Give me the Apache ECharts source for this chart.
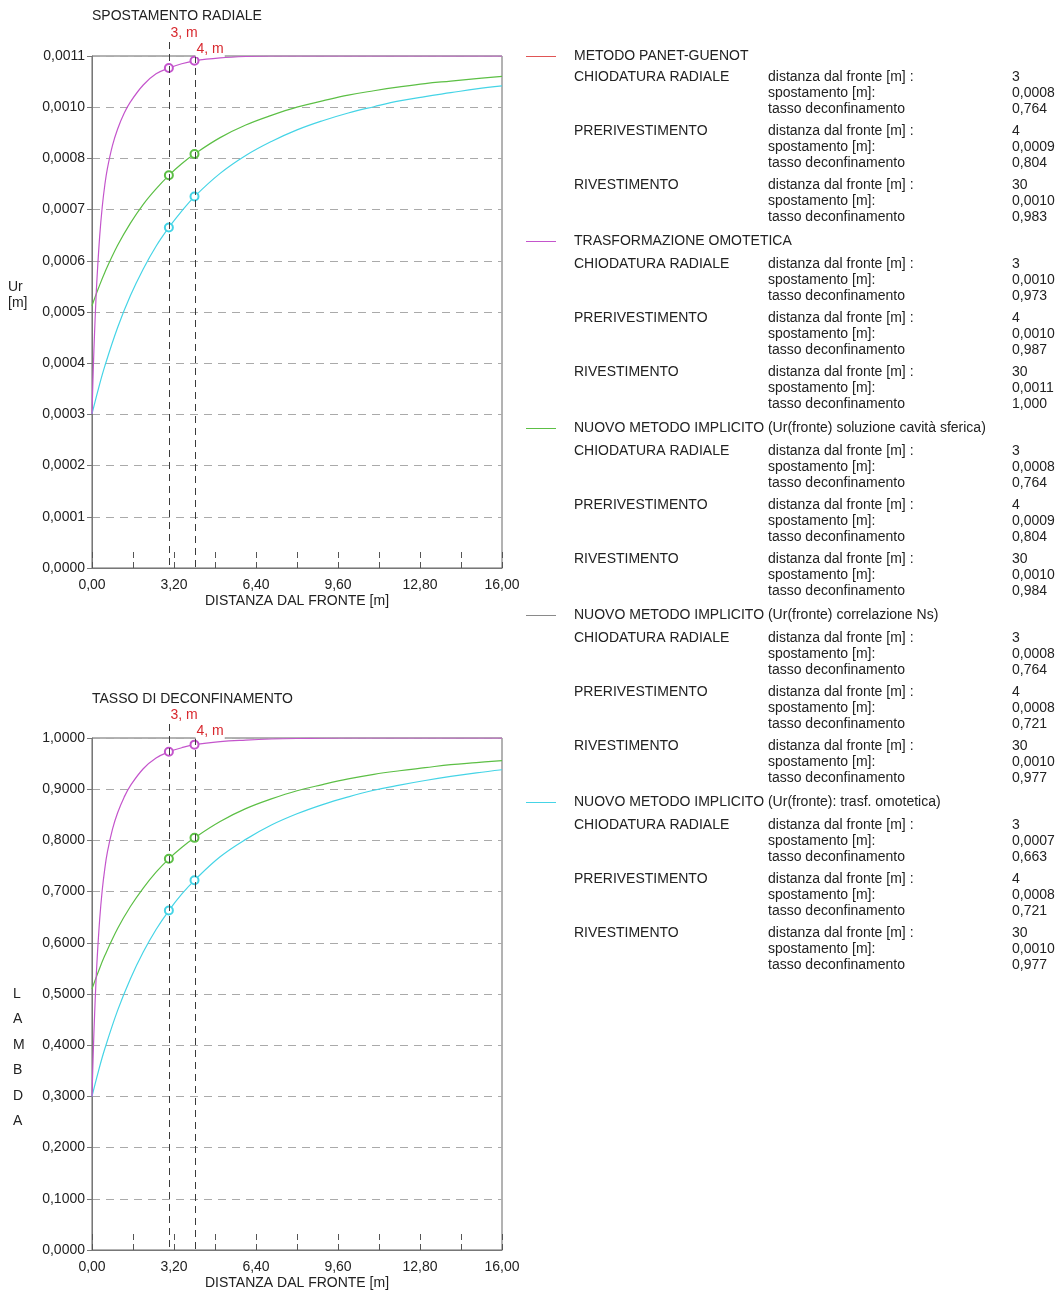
<!DOCTYPE html>
<html><head><meta charset="utf-8">
<script src="https://cdn.jsdelivr.net/npm/echarts@6/dist/echarts.min.js"></script>
<style>html,body{margin:0;padding:0;background:#fff}#c{width:1060px;height:1293px}</style>
</head><body><div id="c"></div>
<script>
// ---------- data ----------
const xs = [0,0.25,0.5,1,1.5,2,2.5,3,3.5,4,5,6,7,8,9,10,11,12,13,14,15,16];
const lamGreen = [0.510,0.544,0.575,0.628,0.671,0.707,0.738,0.764,0.786,0.805,0.837,0.862,0.881,0.897,0.909,0.920,0.929,0.936,0.942,0.948,0.952,0.956];
const lamCyan  = [0.300,0.349,0.393,0.468,0.530,0.582,0.626,0.663,0.695,0.722,0.768,0.802,0.830,0.852,0.870,0.885,0.898,0.908,0.917,0.925,0.932,0.938];
const urGreen = [0.000543,0.000579,0.000612,0.000668,0.000714,0.000753,0.000785,0.000813,0.000837,0.000857,0.000891,0.000917,0.000937,0.000954,0.000967,0.000979,0.000988,0.000996,0.001003,0.001008,0.001013,0.001018];
const urCyan  = [0.000319,0.000371,0.000418,0.000498,0.000564,0.000619,0.000666,0.000705,0.000739,0.000769,0.000817,0.000854,0.000883,0.000907,0.000926,0.000942,0.000955,0.000967,0.000976,0.000984,0.000992,0.000998];
const xsM = [0,0.05,0.1,0.15,0.2,0.3,0.4,0.5,0.6,0.8,1,1.25,1.5,2,2.5,3,3.5,4,5,6,7,8,10,12,14,16];
const lamMag = [0.300,0.387,0.458,0.518,0.568,0.646,0.703,0.745,0.777,0.822,0.854,0.884,0.907,0.940,0.961,0.973,0.981,0.987,0.993,0.996,0.998,0.999,1.000,1.000,1.000,1.000];
const urMag  = [0.000319,0.000412,0.000487,0.000551,0.000604,0.000687,0.000748,0.000793,0.000827,0.000875,0.000909,0.000941,0.000965,0.001000,0.001023,0.001035,0.001044,0.001050,0.001056,0.001059,0.001060,0.001060,0.001060,0.001060,0.001060,0.001060];

const markDist = [3, 4];
const xTickLabels = ['0,00','3,20','6,40','9,60','12,80','16,00'];
const urTickLabels = ['0,0000','0,0001','0,0002','0,0003','0,0004','0,0005','0,0006','0,0007','0,0008','0,0010','0,0011'];
const lamTickLabels = ['0,0000','0,1000','0,2000','0,3000','0,4000','0,5000','0,6000','0,7000','0,8000','0,9000','1,0000'];
const urMax = 0.00106, urStep = 0.000106;
const lamMax = 1, lamStep = 0.1;

const methods = ['METODO PANET-GUENOT','TRASFORMAZIONE OMOTETICA','NUOVO METODO IMPLICITO (Ur(fronte) soluzione cavità sferica)','NUOVO METODO IMPLICITO (Ur(fronte) correlazione Ns)','NUOVO METODO IMPLICITO (Ur(fronte): trasf. omotetica)'];
const phases = ['CHIODATURA RADIALE','PRERIVESTIMENTO','RIVESTIMENTO'];
const rowLabels = ['distanza dal fronte [m] :','spostamento [m]:','tasso deconfinamento'];
const phaseDist = ['3','4','30'];
const methodDispl = [['0,0008','0,0009','0,0010'],['0,0010','0,0010','0,0011'],['0,0008','0,0009','0,0010'],['0,0008','0,0008','0,0010'],['0,0007','0,0008','0,0010']];
const methodLambda = [['0,764','0,804','0,983'],['0,973','0,987','1,000'],['0,764','0,804','0,984'],['0,764','0,721','0,977'],['0,663','0,721','0,977']];

// ---------- style ----------
const FONT = '"Liberation Sans", Arial, sans-serif';
const TXT = '#222';
const C = {red:'#e05555', mag:'#c455cc', green:'#5cbf45', gray:'#8a8a8a', cyan:'#45d4e6'};
const methodColors = [C.red, C.mag, C.green, C.gray, C.cyan];
const G = [{left:92, top:56, width:410, height:512},{left:92, top:738, width:410, height:512}];

const chart = echarts.init(document.getElementById('c'), null, {renderer:'canvas'});

function pairs(x, y){ return x.map((v,i)=>[v,y[i]]); }
function sym(v){ return (v[0]===3||v[0]===4) ? 'emptyCircle' : 'none'; }
function lineSeries(g, x, y, color){
  return {type:'line', xAxisIndex:g, yAxisIndex:g, data:pairs(x,y), smooth:0.4,
    symbol:sym, symbolSize:8, showSymbol:true, clip:true, silent:true, animation:false,
    lineStyle:{color:color, width:1.2}, itemStyle:{color:color, borderColor:color, borderWidth:1.2}};
}
function xAxis(g){
  return {type:'value', gridIndex:g, min:0, max:16, interval:1.6,
    axisLine:{show:true, lineStyle:{color:'#777', width:1}},
    axisTick:{show:true, inside:true, length:16, lineStyle:{color:'#555', type:[6,4]}},
    axisLabel:{color:TXT, fontSize:14, fontFamily:FONT, margin:10, showMinLabel:true, showMaxLabel:true,
      formatter:v=>{const k=Math.round(v/1.6); return k%2===0 ? xTickLabels[k/2] : '';}},
    splitLine:{show:false},
    name:'DISTANZA DAL FRONTE [m]', nameLocation:'middle', nameGap:26,
    nameTextStyle:{color:TXT, fontSize:14, fontFamily:FONT, verticalAlign:'top'}};
}
function yAxis(g, max, step, labels){
  return {type:'value', gridIndex:g, min:0, max:max, interval:step,
    axisLine:{show:true, lineStyle:{color:'#777'}},
    axisTick:{show:true, length:5, lineStyle:{color:'#777'}},
    axisLabel:{color:TXT, fontSize:14, fontFamily:FONT, margin:7,
      formatter:v=>labels[Math.round(v/step)]},
    splitLine:{show:true, lineStyle:{color:'#aaa', type:[8,6]}}};
}

// legend / info texts
const graphics = [];
function txt(x, y, s, extra){
  graphics.push(Object.assign({type:'text', x:x, y:y, silent:true, z:20,
    style:Object.assign({text:s, fill:TXT, font:'14px '+FONT, verticalAlign:'middle', align:'left'}, extra||{})}));
}
methods.forEach((m,k)=>{
  const hy = k===0 ? 56 : 54 + 187*k;
  graphics.push({type:'line', silent:true, shape:{x1:526, y1:hy+0.5, x2:556, y2:hy+0.5}, style:{stroke:methodColors[k], lineWidth:1}});
  txt(574, hy, m);
  const by = 54 + 187*k;
  phases.forEach((p,g)=>{
    const gy = by + 23 + 54*g;
    txt(574, gy, p);
    rowLabels.forEach((r,ri)=>txt(768, gy+16*ri, r));
    txt(1012, gy, phaseDist[g]);
    txt(1012, gy+16, methodDispl[k][g]);
    txt(1012, gy+32, methodLambda[k][g]);
  });
});
txt(92, 16, 'SPOSTAMENTO RADIALE');
txt(92, 699, 'TASSO DI DECONFINAMENTO');
txt(8, 287, 'Ur');
txt(8, 303, '[m]');
['L','A','M','B','D','A'].forEach((ch,i)=>txt(13, 994 + 25.5*i, ch));

chart.setOption({
  animation:false,
  grid: G.map(g=>Object.assign({show:true, borderColor:'#666', borderWidth:1, backgroundColor:'transparent'}, g)),
  xAxis:[xAxis(0), xAxis(1)],
  yAxis:[yAxis(0, urMax, urStep, urTickLabels), yAxis(1, lamMax, lamStep, lamTickLabels)],
  series:[
    lineSeries(0, xs, urCyan, C.cyan), lineSeries(0, xs, urGreen, C.green), lineSeries(0, xsM, urMag, C.mag),
    lineSeries(1, xs, lamCyan, C.cyan), lineSeries(1, xs, lamGreen, C.green), lineSeries(1, xsM, lamMag, C.mag)
  ],
  graphic: graphics
});

// vertical dashed lines at the support distances, with red labels
const yMaxes = [urMax, lamMax];
[0,1].forEach(g=>{
  markDist.forEach((d,i)=>{
    const p0 = chart.convertToPixel({gridIndex:g}, [d, 0]);
    const p1 = chart.convertToPixel({gridIndex:g}, [d, yMaxes[g]]);
    const x = Math.round(p0[0]) + 0.5;
    graphics.push({type:'line', silent:true, z:15, shape:{x1:x, y1:p1[1] - (i===0?14:0), x2:x, y2:p0[1]},
      style:{stroke:'#3a3a3a', lineWidth:1, lineDash:[7,5]}});
    txt(x, p1[1] + (i===0?-23:-7), d + ', m', {fill:'#d8282e', backgroundColor:'#fff', padding:[1,1,1,1]});
  });
});
chart.setOption({graphic: graphics});
</script>
</body></html>
